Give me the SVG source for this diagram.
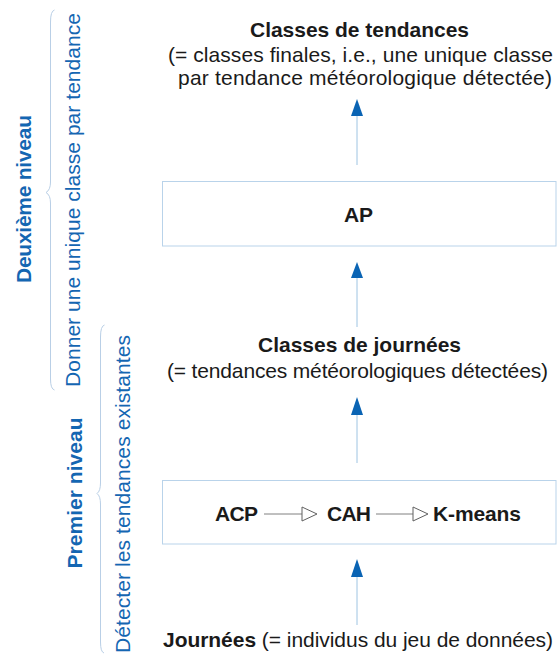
<svg xmlns="http://www.w3.org/2000/svg" width="560" height="655" viewBox="0 0 560 655">
<style>
text{font-family:"Liberation Sans",Arial,sans-serif;fill:#1a1a1a;font-size:21px}
.b{font-weight:bold}
.blue{fill:#1466b2}
.box{fill:#ffffff;stroke:#b9d3ea;stroke-width:1}
.conn{stroke:#9ec4e2;stroke-width:1;fill:none}
.head{fill:#0a64b4}
.seq{stroke:#808080;stroke-width:1;fill:none}
.open{fill:#ffffff;stroke:#606060;stroke-width:1}
.brace{stroke:#b9cfe6;stroke-width:1;fill:none}
</style>
<rect width="560" height="655" fill="#ffffff"/>
<g id="left-labels">
<path class="brace" d="M54.5,10 Q50.5,11 50.5,22 L50.5,182 Q50.5,190 46,192.5 Q50.5,195 50.5,203 L50.5,379 Q50.5,389 54.5,390"/>
<path class="brace" d="M104.5,325 Q100.5,326 100.5,337 L100.5,483 Q100.5,491 97,493.5 Q100.5,496 100.5,504 L100.5,642 Q100.5,652 104,653"/>
<text class="blue b" transform="translate(30.5,199) rotate(-90)" text-anchor="middle" textLength="168" lengthAdjust="spacing">Deuxième niveau</text>
<text class="blue" transform="translate(79.5,200) rotate(-90)" text-anchor="middle" textLength="374" lengthAdjust="spacing">Donner une unique classe par tendance</text>
<text class="blue b" transform="translate(81.5,493) rotate(-90)" text-anchor="middle" textLength="151" lengthAdjust="spacing">Premier niveau</text>
<text class="blue" transform="translate(130,494) rotate(-90)" text-anchor="middle" textLength="318" lengthAdjust="spacing">Détecter les tendances existantes</text>
</g>
<g id="node-classes-tendances">
<text class="b" x="250" y="37" textLength="219" lengthAdjust="spacing">Classes de tendances</text>
<text x="168" y="61.5" textLength="385" lengthAdjust="spacing">(= classes finales, i.e., une unique classe</text>
<text x="178" y="85" textLength="374" lengthAdjust="spacing">par tendance météorologique détectée)</text>
</g>
<g id="node-ap">
<rect class="box" x="162.5" y="181.5" width="393.5" height="64.5"/>
<text class="b" x="358.5" y="221.5" text-anchor="middle">AP</text>
</g>
<g id="node-classes-journees">
<text class="b" x="258" y="352" textLength="203" lengthAdjust="spacing">Classes de journées</text>
<text x="167" y="378" textLength="381" lengthAdjust="spacing">(= tendances météorologiques détectées)</text>
</g>
<g id="node-pipeline">
<rect class="box" x="162.5" y="480.5" width="393.5" height="63.5"/>
<text class="b" x="215" y="520.5" textLength="43" lengthAdjust="spacing">ACP</text>
<line class="seq" x1="264" y1="514" x2="302" y2="514"/>
<polygon class="open" points="302,507 317,514 302,521"/>
<text class="b" x="327" y="520.5" textLength="44" lengthAdjust="spacing">CAH</text>
<line class="seq" x1="376" y1="514" x2="413" y2="514"/>
<polygon class="open" points="413,507 428,514 413,521"/>
<text class="b" x="433" y="520.5" textLength="88" lengthAdjust="spacing">K-means</text>
</g>
<g id="node-journees">
<text x="163" y="647" textLength="390" lengthAdjust="spacing"><tspan class="b">Journées</tspan> (= individus du jeu de données)</text>
</g>
<g id="connectors">
<line class="conn" x1="357" y1="165" x2="357" y2="115"/>
<polygon class="head" points="357,99 363,116 351,116"/>
<line class="conn" x1="357" y1="327" x2="357" y2="277"/>
<polygon class="head" points="357,262 363,278 351,278"/>
<line class="conn" x1="357" y1="463" x2="357" y2="414"/>
<polygon class="head" points="357,397 363,415 351,415"/>
<line class="conn" x1="357" y1="625" x2="357" y2="576"/>
<polygon class="head" points="357,559 363,577 351,577"/>
</g>
</svg>
